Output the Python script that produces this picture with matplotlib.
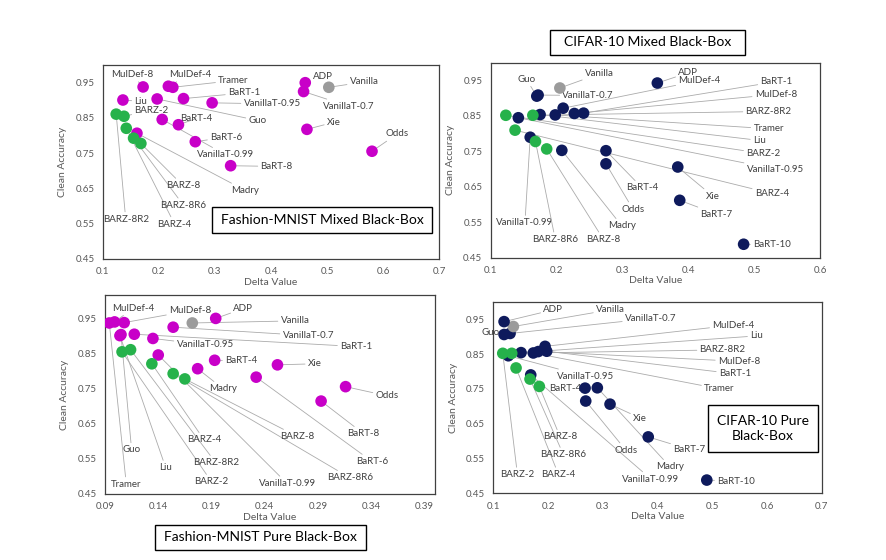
import matplotlib
matplotlib.use('Agg')
import matplotlib.pyplot as plt
from matplotlib.patches import Rectangle

plt.rcParams['font.family'] = ['Lato', 'DejaVu Sans']

# ---------------- Fashion-MNIST ----------------
fm_names = ['MulDef-8', 'MulDef-4', 'Tramer', 'Liu', 'Guo', 'BaRT-1', 'VanillaT-0.95',
            'ADP', 'VanillaT-0.7', 'Vanilla', 'Xie', 'Odds', 'BaRT-8', 'BaRT-6', 'BaRT-4',
            'VanillaT-0.99', 'Madry', 'BARZ-2', 'BARZ-8R2', 'BARZ-4', 'BARZ-8R6', 'BARZ-8']
fm_acc = [0.937, 0.939, 0.936, 0.900, 0.903, 0.904, 0.892,
          0.949, 0.924, 0.936, 0.817, 0.755, 0.714, 0.782, 0.830,
          0.845, 0.806, 0.854, 0.860, 0.820, 0.792, 0.777]
fm_mixed_delta = [0.172, 0.217, 0.225, 0.136, 0.197, 0.244, 0.295,
                  0.461, 0.458, 0.503, 0.464, 0.580, 0.328, 0.265, 0.235,
                  0.206, 0.161, 0.138, 0.124, 0.142, 0.155, 0.168]
fm_pure_delta = [0.108, 0.099, 0.094, 0.104, 0.105, 0.1175, 0.135,
                 0.194, 0.154, 0.172, 0.252, 0.316, 0.293, 0.232, 0.193,
                 0.140, 0.177, 0.106, 0.114, 0.134, 0.154, 0.165]

# ---------------- CIFAR-10 ----------------
cf_names = ['Guo', 'VanillaT-0.7', 'Vanilla', 'ADP', 'MulDef-4', 'BaRT-1', 'MulDef-8',
            'Tramer', 'Liu', 'VanillaT-0.95', 'VanillaT-0.99', 'Madry', 'BaRT-4', 'Odds',
            'Xie', 'BaRT-7', 'BaRT-10', 'BARZ-8R2', 'BARZ-2', 'BARZ-4', 'BARZ-8R6', 'BARZ-8']
cf_acc = [0.906, 0.909, 0.929, 0.943, 0.872, 0.858, 0.857,
          0.853, 0.854, 0.845, 0.790, 0.753, 0.752, 0.715,
          0.706, 0.612, 0.488, 0.852, 0.852, 0.810, 0.778, 0.757]
cf_mixed_delta = [0.170, 0.172, 0.205, 0.353, 0.210, 0.241, 0.227,
                  0.198, 0.175, 0.142, 0.160, 0.208, 0.275, 0.275,
                  0.384, 0.387, 0.484, 0.164, 0.123, 0.137, 0.168, 0.185]
cf_pure_delta = [0.1196, 0.1305, 0.1366, 0.1196, 0.1945, 0.1975, 0.182,
                 0.173, 0.1506, 0.1274, 0.1683, 0.290, 0.2676, 0.2688,
                 0.3132, 0.383, 0.490, 0.1336, 0.1172, 0.1415, 0.167, 0.184]

acc_ticks = [0.45, 0.55, 0.65, 0.75, 0.85, 0.95]

MAGENTA = '#C800C8'
NAVY = '#0E1A5C'
GREEN = '#26B24B'
GREY = '#9B9B9B'

# label spots in data units (layout only, same order as names)
fm_mixed_lbl = [(0.152, 0.972), (0.256, 0.972), (0.333, 0.955), (0.168, 0.896), (0.376, 0.842),
                (0.352, 0.920), (0.402, 0.889), (0.493, 0.967), (0.539, 0.882), (0.566, 0.951),
                (0.512, 0.837), (0.625, 0.804), (0.410, 0.712), (0.320, 0.795), (0.266, 0.847),
                (0.319, 0.745), (0.354, 0.644), (0.187, 0.871), (0.141, 0.563), (0.228, 0.549),
                (0.244, 0.602), (0.243, 0.658)]
fm_pure_lbl = [(0.170, 0.971), (0.1166, 0.978), (0.110, 0.478), (0.147, 0.525), (0.115, 0.575),
               (0.326, 0.869), (0.184, 0.874), (0.220, 0.977), (0.281, 0.900), (0.2685, 0.942),
               (0.287, 0.820), (0.355, 0.729), (0.333, 0.621), (0.341, 0.542), (0.218, 0.829),
               (0.261, 0.480), (0.201, 0.749), (0.190, 0.485), (0.194, 0.539), (0.183, 0.604),
               (0.320, 0.496), (0.271, 0.613)]
cf_mixed_lbl = [(0.154, 0.954), (0.248, 0.908), (0.265, 0.969), (0.400, 0.972), (0.417, 0.950),
                (0.534, 0.947), (0.533, 0.911), (0.522, 0.814), (0.508, 0.781), (0.532, 0.700),
                (0.152, 0.549), (0.299, 0.540), (0.330, 0.647), (0.316, 0.587), (0.437, 0.624),
                (0.443, 0.573), (0.527, 0.486), (0.522, 0.863), (0.514, 0.744), (0.527, 0.631),
                (0.198, 0.502), (0.271, 0.502)]
cf_pure_lbl = [(0.094, 0.912), (0.3875, 0.952), (0.314, 0.977), (0.2096, 0.977), (0.5386, 0.933),
               (0.5416, 0.793), (0.549, 0.829), (0.513, 0.750), (0.581, 0.902), (0.269, 0.786),
               (0.388, 0.491), (0.423, 0.526), (0.231, 0.752), (0.342, 0.574), (0.368, 0.666),
               (0.458, 0.576), (0.5435, 0.485), (0.519, 0.862), (0.144, 0.504), (0.219, 0.504),
               (0.228, 0.561), (0.222, 0.612)]


def point_color(name, base):
    if name.startswith('BARZ'):
        return GREEN
    if name == 'Vanilla':
        return GREY
    return base


def draw_panel(ax, names, delta, acc, lbls, base, xticks, xlim, ylim):
    cols = [point_color(n, base) for n in names]
    ax.scatter(delta, acc, s=70, c=cols, linewidths=0, zorder=3)
    for n, x, y, (lx, ly) in zip(names, delta, acc, lbls):
        ax.annotate(n, xy=(x, y), xytext=(lx, ly), ha='center', va='center',
                    fontsize=7, color='#404040', zorder=2, annotation_clip=False,
                    arrowprops=dict(arrowstyle='-', color='#ababab', lw=0.6,
                                    shrinkA=0, shrinkB=3))
    ax.set_xlim(*xlim)
    ax.set_ylim(*ylim)
    ax.set_xticks(xticks)
    ax.set_xticklabels(['%g' % t for t in xticks])
    ax.set_yticks(acc_ticks)
    ax.set_yticklabels(['%.2f' % t for t in acc_ticks])
    ax.tick_params(length=0, labelsize=7, labelcolor='#595959', pad=6)
    for sp in ax.spines.values():
        sp.set_color('#404040')
        sp.set_linewidth(0.9)
    ax.set_xlabel('Delta Value', fontsize=7.5, color='#595959', labelpad=1)
    ax.set_ylabel('Clean Accuracy', fontsize=7.5, color='#595959', labelpad=6)


fig = plt.figure(figsize=(8.87, 5.6), dpi=100)

ax1 = fig.add_axes([0.1158, 0.5375, 0.3795, 0.347])
draw_panel(ax1, fm_names, fm_mixed_delta, fm_acc, fm_mixed_lbl, MAGENTA,
           [0.1, 0.2, 0.3, 0.4, 0.5, 0.6, 0.7], (0.1, 0.7), (0.45, 1.0))

ax2 = fig.add_axes([0.5532, 0.5398, 0.3713, 0.348])
draw_panel(ax2, cf_names, cf_mixed_delta, cf_acc, cf_mixed_lbl, NAVY,
           [0.1, 0.2, 0.3, 0.4, 0.5, 0.6], (0.1, 0.6), (0.45, 1.0))

ax3 = fig.add_axes([0.1184, 0.1179, 0.372, 0.355])
draw_panel(ax3, fm_names, fm_pure_delta, fm_acc, fm_pure_lbl, MAGENTA,
           [0.09, 0.14, 0.19, 0.24, 0.29, 0.34, 0.39], (0.09, 0.40), (0.45, 1.015))

ax4 = fig.add_axes([0.5562, 0.1191, 0.3702, 0.342])
draw_panel(ax4, cf_names, cf_pure_delta, cf_acc, cf_pure_lbl, NAVY,
           [0.1, 0.2, 0.3, 0.4, 0.5, 0.6, 0.7], (0.1, 0.7), (0.45, 1.0))

# title boxes
boxes = [((0.239, 0.584, 0.248, 0.0464), 'Fashion-MNIST Mixed Black-Box'),
         ((0.620, 0.902, 0.220, 0.0446), 'CIFAR-10 Mixed Black-Box'),
         ((0.1747, 0.0179, 0.238, 0.0446), 'Fashion-MNIST Pure Black-Box'),
         ((0.798, 0.193, 0.124, 0.084), 'CIFAR-10 Pure\nBlack-Box')]
for (x0, y0, w, h), txt in boxes:
    fig.add_artist(Rectangle((x0, y0), w, h, transform=fig.transFigure,
                             facecolor='white', edgecolor='black', lw=1, zorder=5))
    fig.text(x0 + w / 2, y0 + h / 2, txt, ha='center', va='center',
             fontsize=10, color='black', zorder=6, linespacing=1.3)

fig.savefig('out.png', dpi=100)
